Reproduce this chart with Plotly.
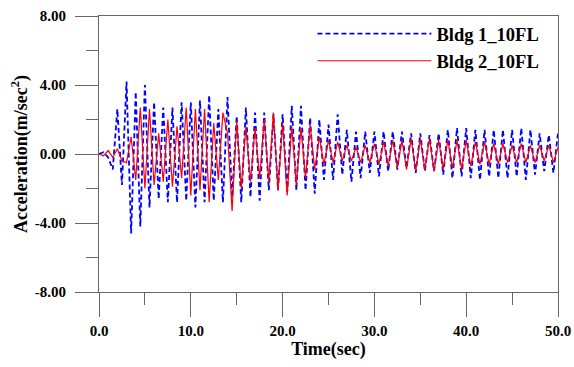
import numpy as np
import plotly.graph_objects as go

# sample times (s), one extreme every half cycle
time_s = [round(0.5 * i, 1) for i in range(101)]

bldg1_10fl = [
    0.0, 0.1, -0.2, -0.9, 2.6, -1.8, 4.2, -4.6, 3.6, -4.2,
    4.0, -3.1, 3.0, -2.6, 2.7, -2.8, 2.7, -2.8, 3.0, -2.7,
    3.0, -3.1, 3.1, -2.8, 3.4, -2.7, 2.6, -2.8, 3.3, -2.5,
    2.2, -2.8, 2.7, -2.5, 2.4, -2.7, 2.4, -2.1, 2.3, -2.1,
    2.3, -2.2, 2.8, -2.1, 2.8, -2.1, 2.1, -2.3, 2.0, -1.5,
    1.7, -1.5, 2.3, -1.2, 1.4, -1.6, 1.3, -1.4, 1.3, -1.1,
    1.3, -1.3, 1.3, -1.0, 1.3, -0.9, 1.3, -0.8, 1.2, -1.1,
    1.2, -1.0, 1.1, -1.0, 1.2, -1.2, 1.4, -1.4, 1.5, -1.3,
    1.5, -1.4, 1.4, -1.5, 1.4, -1.3, 1.4, -1.4, 1.4, -1.4,
    1.4, -1.3, 1.5, -1.5, 1.4, -1.2, 1.2, -1.0, 1.1, -1.1,
    1.2,
]

bldg2_10fl = [
    0.0, -0.1, 0.2, -0.2, 0.3, -0.4, -0.5, 1.0, -1.5, 2.7,
    -2.0, 2.6, -1.8, 1.2, -1.6, 2.0, -1.9, 1.6, -1.4, 2.7,
    -2.4, 2.6, -2.1, 2.6, -2.8, 1.8, -1.5, 2.4, 1.2, -3.3,
    1.9, -2.0, 1.6, -1.6, 1.5, -1.4, 2.0, -1.6, 2.4, -2.1,
    1.8, -2.4, 1.6, -1.8, 1.5, -1.4, 1.7, -0.9, 1.0, -0.6,
    0.8, -0.5, 0.7, -0.4, 0.5, -0.4, 0.4, -0.5, 0.5, -0.5,
    0.6, -0.6, 0.7, -0.7, 0.8, -0.8, 0.8, -0.9, 0.9, -1.0,
    0.9, -0.9, 0.9, -1.0, 0.8, -0.9, 0.8, -0.8, 0.8, -0.9,
    0.8, -0.7, 0.7, -0.6, 0.7, -0.6, 0.6, -0.6, 0.6, -0.5,
    0.5, -0.5, 0.6, -0.5, 0.5, -0.5, 0.5, -0.4, 0.5, -0.5,
    0.4,
]

x_tick_vals = [0, 10, 20, 30, 40, 50]
x_tick_text = ["0.0", "10.0", "20.0", "30.0", "40.0", "50.0"]
y_tick_vals = [8, 4, 0, -4, -8]
y_tick_text = ["8.00", "4.00", "0.00", "-4.00", "-8.00"]

FONT = "Liberation Serif"
AXC = "#666666"

fig = go.Figure()
fig.add_trace(go.Scatter(
    x=time_s, y=bldg1_10fl, mode="lines", name="Bldg 1_10FL",
    line=dict(color="#0000ff", width=1.8, dash="5px,3px"),
    legendgroup="a",
))
fig.add_trace(go.Scatter(
    x=time_s, y=bldg2_10fl, mode="lines", name="Bldg 2_10FL",
    line=dict(color="#ff0000", width=1.2),
    legendgroup="b",
))

fig.update_layout(
    width=574, height=367,
    margin=dict(l=99, r=16, t=16, b=75, autoexpand=False),
    paper_bgcolor="white", plot_bgcolor="white",
    font=dict(family=FONT, color="black", weight="bold"),
    showlegend=True,
    legend=dict(
        x=0.465, y=1.003, xanchor="left", yanchor="top",
        bgcolor="rgba(0,0,0,0)", borderwidth=0,
        font=dict(family=FONT, size=18.5, color="black", weight="bold"),
        itemwidth=114, traceorder="grouped", tracegroupgap=0,
    ),
    xaxis=dict(
        range=[0, 50], tickmode="array", tickvals=x_tick_vals, ticktext=x_tick_text,
        ticks="outside", ticklen=24, tickwidth=1, tickcolor=AXC,
        minor=dict(dtick=5, ticks="outside", ticklen=12, tickwidth=1, tickcolor=AXC),
        showline=True, linecolor=AXC, linewidth=1, mirror=True,
        showgrid=False, zeroline=False, automargin=False,
        tickfont=dict(family=FONT, size=15, color="black", weight="bold"),
        ticklabelstandoff=1,
        title=dict(text="Time(sec)", font=dict(family=FONT, size=18, weight="bold"), standoff=4),
    ),
    yaxis=dict(
        range=[-8, 8], tickmode="array", tickvals=y_tick_vals, ticktext=y_tick_text,
        ticks="outside", ticklen=23, tickwidth=1, tickcolor=AXC,
        minor=dict(dtick=2, ticks="outside", ticklen=12, tickwidth=1, tickcolor=AXC),
        showline=True, linecolor=AXC, linewidth=1, mirror=True,
        showgrid=False, zeroline=False, automargin=False,
        tickfont=dict(family=FONT, size=15, color="black", weight="bold"),
        ticklabelstandoff=6,
        title=dict(text="Acceleration(m/sec<sup>2</sup>)", font=dict(family=FONT, size=18, weight="bold"), standoff=2),
    ),
)

# remove the page's default body margin / scrollbars so the figure fills the window exactly
fig.write_html(
    "out.html",
    config={"displayModeBar": False},
    post_script="document.body.style.margin='0';document.body.style.overflow='hidden';",
)
